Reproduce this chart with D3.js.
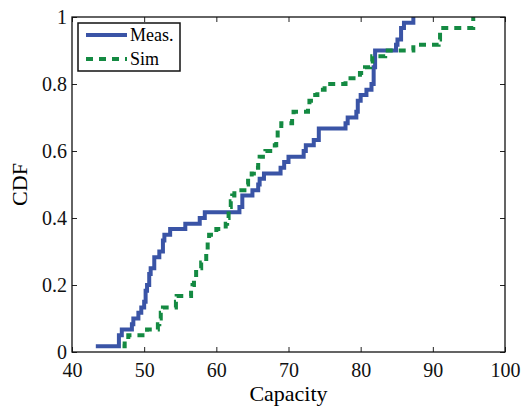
<!DOCTYPE html>
<meta charset="utf-8">
<style>
 body { margin: 0; background: white; }
 svg { display: block; font-family: 'Liberation Serif', 'Times New Roman', serif; }
</style>
<svg width="525" height="408"></svg>
<script src="https://d3js.org/d3.v7.min.js"></script>
<script>
 // measured capacity CDF, [capacity, cdf] step points
 var meas = [
     [43.3, 0.017], [46.5, 0.05], [46.9, 0.067], [48.3, 0.083], [48.5, 0.10],
     [49.2, 0.117], [49.6, 0.133], [50.0, 0.15], [50.2, 0.183], [50.4, 0.20],
     [50.7, 0.233], [50.9, 0.25], [51.4, 0.283], [52.1, 0.30], [52.6, 0.333],
     [52.8, 0.35], [53.6, 0.367], [55.7, 0.383], [57.7, 0.40], [58.4, 0.417],
     [63.2, 0.433], [63.6, 0.467], [65.0, 0.483], [65.8, 0.50], [66.0, 0.517],
     [66.6, 0.533], [68.9, 0.55], [69.4, 0.567], [70.0, 0.583], [72.1, 0.60],
     [72.4, 0.617], [73.5, 0.633], [74.2, 0.667], [77.9, 0.683], [78.2, 0.70],
     [79.4, 0.717], [79.6, 0.75], [80.0, 0.767], [80.8, 0.783], [81.5, 0.80],
     [81.8, 0.85], [82.0, 0.90], [84.9, 0.917], [85.1, 0.933], [85.6, 0.967],
     [86.0, 0.983], [87.3, 1.0]
 ];
 // simulated capacity CDF
 var sim = [
     [47.0, 0.017], [47.3, 0.033], [47.8, 0.05], [50.4, 0.067], [51.9, 0.083],
     [52.1, 0.10], [52.3, 0.117], [52.6, 0.133], [54.4, 0.15], [54.5, 0.167],
     [56.5, 0.183], [56.7, 0.20], [56.9, 0.217], [57.2, 0.25], [57.9, 0.267],
     [58.6, 0.30], [58.8, 0.333], [59.0, 0.35], [60.0, 0.367], [61.3, 0.383],
     [61.5, 0.40], [61.7, 0.433], [62.0, 0.45], [62.2, 0.467], [62.5, 0.483],
     [64.2, 0.50], [64.4, 0.517], [64.9, 0.533], [65.2, 0.55], [65.8, 0.567],
     [66.0, 0.583], [66.8, 0.60], [68.1, 0.617], [68.3, 0.633], [68.5, 0.667],
     [69.0, 0.683], [70.5, 0.70], [70.7, 0.717], [72.7, 0.733], [72.9, 0.75],
     [73.7, 0.767], [74.0, 0.783], [75.0, 0.80], [77.9, 0.817], [79.9, 0.833],
     [80.6, 0.85], [81.3, 0.867], [81.6, 0.883], [83.4, 0.90], [87.3, 0.917],
     [90.8, 0.933], [91.0, 0.967], [95.6, 1.0]
 ];
 var xTicks = [40, 50, 60, 70, 80, 90, 100];
 var yTicks = [0, 0.2, 0.4, 0.6, 0.8, 1];
 var seriesNames = ['Meas.', 'Sim'];

 var svg = d3.select('svg');
 var mLeft = 72, mRight = 505, mTop = 17, mBottom = 352;
 var x = d3.scaleLinear().domain([40, 100]).range([mLeft, mRight]);
 var y = d3.scaleLinear().domain([0, 1]).range([mBottom, mTop]);

 var line = d3.line()
     .x(function(d) { return x(d[0]); })
     .y(function(d) { return y(d[1]); })
     .curve(d3.curveStepAfter);

 // curves
 svg.append('path').datum(meas)
     .attr('d', line)
     .attr('fill', 'none')
     .attr('stroke', '#3a54a6')
     .attr('stroke-width', 4);
 svg.append('path').datum(sim)
     .attr('d', line)
     .attr('fill', 'none')
     .attr('stroke', '#148a42')
     .attr('stroke-width', 4)
     .attr('stroke-dasharray', '7,6');

 // axes with inward ticks on all sides
 function styleAxis(g) {
     g.attr('font-family', null).attr('font-size', 20);
     g.select('.domain').remove();
     g.selectAll('.tick line').attr('stroke', '#222').attr('stroke-width', 1);
     g.selectAll('.tick text').attr('fill', '#111');
 }
 svg.append('g').attr('transform', 'translate(0,' + mBottom + ')')
     .call(d3.axisBottom(x).tickValues(xTicks).tickSizeInner(-5).tickPadding(11))
     .call(styleAxis);
 svg.append('g').attr('transform', 'translate(0,' + mTop + ')')
     .call(d3.axisTop(x).tickValues(xTicks).tickSizeInner(-5).tickFormat(''))
     .call(styleAxis);
 svg.append('g').attr('transform', 'translate(' + mLeft + ',0)')
     .call(d3.axisLeft(y).tickValues(yTicks).tickSizeInner(-5).tickPadding(5)
         .tickFormat(function(d) { return d === 0 || d === 1 ? d : d3.format('.1f')(d); }))
     .call(styleAxis);
 svg.append('g').attr('transform', 'translate(' + mRight + ',0)')
     .call(d3.axisRight(y).tickValues(yTicks).tickSizeInner(-5).tickFormat(''))
     .call(styleAxis);

 svg.append('rect')
     .attr('x', mLeft).attr('y', mTop)
     .attr('width', mRight - mLeft).attr('height', mBottom - mTop)
     .attr('fill', 'none').attr('stroke', '#111').attr('stroke-width', 1.3);

 // axis labels
 svg.append('text')
     .attr('x', (mLeft + mRight) / 2).attr('y', 401)
     .attr('text-anchor', 'middle')
     .style('font-size', '22px')
     .text('Capacity');
 svg.append('text')
     .attr('transform', 'translate(27,' + (mTop + mBottom) / 2 + ') rotate(-90)')
     .attr('text-anchor', 'middle')
     .style('font-size', '22px')
     .text('CDF');

 // legend
 var lg = svg.append('g');
 lg.append('rect')
     .attr('x', 78).attr('y', 23).attr('width', 102).attr('height', 48)
     .attr('fill', 'white').attr('stroke', '#111').attr('stroke-width', 1.5);
 var styles = [{ c: '#3a54a6', dash: null }, { c: '#148a42', dash: '7,6' }];
 seriesNames.forEach(function(name, i) {
     var yy = 35 + i * 24;
     lg.append('line')
         .attr('x1', 86).attr('x2', 127).attr('y1', yy).attr('y2', yy)
         .attr('stroke', styles[i].c).attr('stroke-width', 4)
         .attr('stroke-dasharray', styles[i].dash);
     lg.append('text')
         .attr('x', 130).attr('y', yy + 6)
         .style('font-size', '18px')
         .text(name);
 });
</script>
